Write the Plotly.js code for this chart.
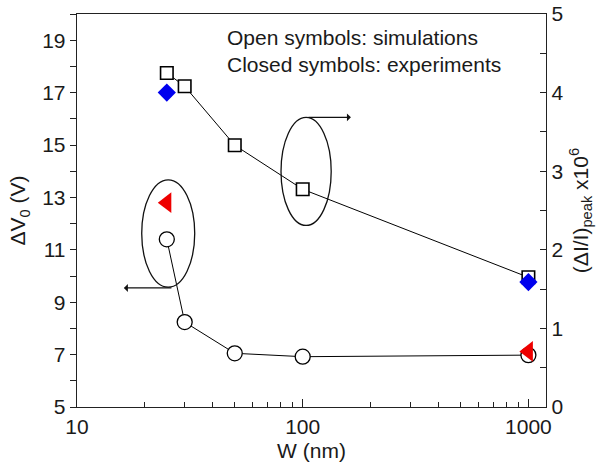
<!DOCTYPE html>
<html>
<head>
<meta charset="utf-8">
<script src="https://cdn.plot.ly/plotly-3.0.1.min.js"></script>
<style>html,body{margin:0;padding:0;background:#fff;}#chart{width:614px;height:465px;}</style>
</head>
<body>
<div id="chart"></div>
<script>
// Widths W (nm)
const simW = [25, 30, 50, 100, 1000];
// Open squares: simulated (ΔI/I)peak x10^6 (right axis)
const simCurrent = [4.25, 4.08, 3.33, 2.77, 1.65];
// Open circles: simulated ΔV0 (V) (left axis)
const simVoltage = [11.4, 8.24, 7.05, 6.92, 6.98];
// Closed symbols: experiments
const expW = [25, 1000];
const expCurrent = [4.0, 1.59];     // blue diamonds, right axis
const expVoltage = [12.8, 7.12];    // red triangles, left axis

const fontFam = 'Liberation Sans, Arial, sans-serif';
const txt = '#1a1a1a';
const fs = 21;

const traces = [
  {x: simW, y: simVoltage, type: 'scatter', mode: 'lines+markers', yaxis: 'y',
   line: {color: '#000', width: 1},
   marker: {symbol: 'circle', size: 15, color: '#fff', line: {color: '#000', width: 1.3}}},
  {x: simW, y: simCurrent, type: 'scatter', mode: 'lines+markers', yaxis: 'y2',
   line: {color: '#000', width: 1},
   marker: {symbol: 'square', size: 12.5, color: '#fff', line: {color: '#000', width: 1.6}}},
  {x: expW, y: expVoltage, type: 'scatter', mode: 'markers', yaxis: 'y',
   marker: {symbol: 'triangle-left', size: 18, color: '#ee0000', line: {width: 0}}},
  {x: expW, y: expCurrent, type: 'scatter', mode: 'markers', yaxis: 'y2',
   marker: {symbol: 'diamond', size: 14, color: '#0000ee', line: {width: 0}}}
];

const layout = {
  width: 614, height: 465,
  margin: {l: 77, r: 68, t: 14, b: 58},
  paper_bgcolor: '#fff', plot_bgcolor: '#fff',
  showlegend: false,
  font: {family: fontFam, color: txt, size: fs},
  xaxis: {
    type: 'log', range: [1, 3.078], showgrid: false, zeroline: false,
    showline: true, linecolor: '#222', linewidth: 1.3, mirror: true,
    tickvals: [10, 100, 1000], ticktext: ['10', '100', '1000'],
    ticks: 'inside', ticklen: 8, tickcolor: '#222',
    minor: {tickvals: [20,30,40,50,60,70,80,90,200,300,400,500,600,700,800,900], ticks: 'inside', ticklen: 5, tickcolor: '#222', showgrid: false},
    tickfont: {size: fs},
    title: {text: 'W (nm)', font: {size: fs}, standoff: 6}
  },
  yaxis: {
    range: [5, 20], showgrid: false, zeroline: false,
    showline: true, linecolor: '#222', linewidth: 1.3,
    tick0: 5, dtick: 2, ticks: 'outside', ticklen: 6, tickcolor: '#222',
    minor: {dtick: 1, ticks: 'outside', ticklen: 6, tickcolor: '#222', showgrid: false},
    tickfont: {size: fs},
    title: {text: 'ΔV<sub>0</sub> (V)', font: {size: fs}, standoff: 10}
  },
  yaxis2: {
    overlaying: 'y', side: 'right', range: [0, 5], showgrid: false, zeroline: false,
    showline: true, linecolor: '#222', linewidth: 1.3,
    dtick: 1, ticks: 'inside', ticklen: 6, tickcolor: '#222',
    minor: {dtick: 0.5, ticks: 'inside', ticklen: 6, tickcolor: '#222', showgrid: false},
    tickfont: {size: fs},
    title: {text: '(ΔI/I)<sub>peak</sub> x10<sup>6</sup>', font: {size: fs}, standoff: 10}
  },
  shapes: [
    {type: 'circle', xref: 'paper', yref: 'paper', x0: 0.138, x1: 0.251, y0: 0.305, y1: 0.578,
     line: {color: '#111', width: 1.3}},
    {type: 'circle', xref: 'paper', yref: 'paper', x0: 0.435, x1: 0.542, y0: 0.462, y1: 0.737,
     line: {color: '#111', width: 1.3}}
  ],
  annotations: [
    {xref: 'paper', yref: 'paper', x: 0.10, y: 0.303, ax: 49, ay: 0, axref: 'pixel', ayref: 'pixel',
     text: '', showarrow: true, arrowhead: 1, arrowsize: 1.2, arrowwidth: 1.1, arrowcolor: '#111'},
    {xref: 'paper', yref: 'paper', x: 0.584, y: 0.737, ax: -44, ay: 0, axref: 'pixel', ayref: 'pixel',
     text: '', showarrow: true, arrowhead: 1, arrowsize: 1.2, arrowwidth: 1.1, arrowcolor: '#111'},
    {xref: 'paper', yref: 'paper', x: 0.316, y: 0.941, xanchor: 'left', yanchor: 'middle',
     text: 'Open symbols: simulations', showarrow: false, font: {size: fs, color: txt}},
    {xref: 'paper', yref: 'paper', x: 0.316, y: 0.872, xanchor: 'left', yanchor: 'middle',
     text: 'Closed symbols: experiments', showarrow: false, font: {size: fs, color: txt}}
  ]
};

Plotly.newPlot('chart', traces, layout, {displayModeBar: false, staticPlot: true});
</script>
</body>
</html>
